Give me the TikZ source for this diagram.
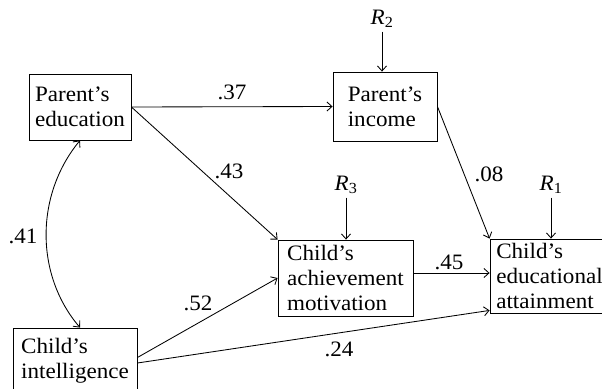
\documentclass[tikz,border=0pt]{standalone}
\usepackage{fontspec}
\setmainfont{Liberation Serif}[FakeStretch=1.05]
\usetikzlibrary{arrows.meta}

\newcommand\rlab[1]{\textit{R}\textsubscript{#1}}

\tikzset{
  >={Straight Barb[length=5pt,width=9pt]},
  var/.style={draw, align=left, inner sep=0pt},
}

\begin{document}
\begin{tikzpicture}[x=1pt,y=-1pt,line width=0.85pt,font=\fontsize{22}{25}\selectfont]
  \useasboundingbox (0,0) rectangle (602,388);

  % variables
  \node[var, minimum width=102, minimum height=66] (pedu) at (80,107) {Parent's\\education};
  \node[var, minimum width=104, minimum height=69] (pinc) at (385,106.5) {Parent's\\income};
  \node[var, minimum width=124, minimum height=65] (cint) at (75,360.5) {Child's\\intelligence};
  \node[var, minimum width=135, minimum height=76] (cach) at (345.5,278) {Child's\\achievement\\motivation};
  \node[var, minimum width=119, minimum height=74] (catt) at (549.5,276) {Child's\\educational\\attainment};

  % residuals
  \node (r2) at (382,19) {\rlab{2}};
  \node (r3) at (346,185) {\rlab{3}};
  \node (r1) at (551,185) {\rlab{1}};
  \draw[->] (r2.south) -- (r2.south |- pinc.north);
  \draw[->] (r3.south) -- (r3.south |- cach.north);
  \draw[->] (r1.south) -- (r1.south |- catt.north);

  % paths
  \draw[->] (pedu.east) -- (pinc.west);
  \draw[->] (pedu.east) -- (cach.north west);
  \draw[->] (pinc.east) -- (catt.north west);
  \draw[->] (cach.east |- 0,273) -- (catt.west |- 0,273);
  \draw[->] ([yshift=3pt]cint.east) -- (cach.west);
  \draw[->] ([yshift=-2.5pt]cint.east) -- ([yshift=3pt]catt.south west);
  \draw[<->] (pedu.south) .. controls (35,195) and (35,275) .. (cint.north -| pedu.south);

  % coefficients
  \foreach \lab/\x/\y/\val in {w37/232/92/.37, w43/229/171/.43, w08/489/174/.08,
      w41/23/236/.41, w52/198/303/.52, w45/449/262/.45, w24/339/349/.24}
    \node (\lab) at (\x,\y) {\val};
\end{tikzpicture}
\end{document}
